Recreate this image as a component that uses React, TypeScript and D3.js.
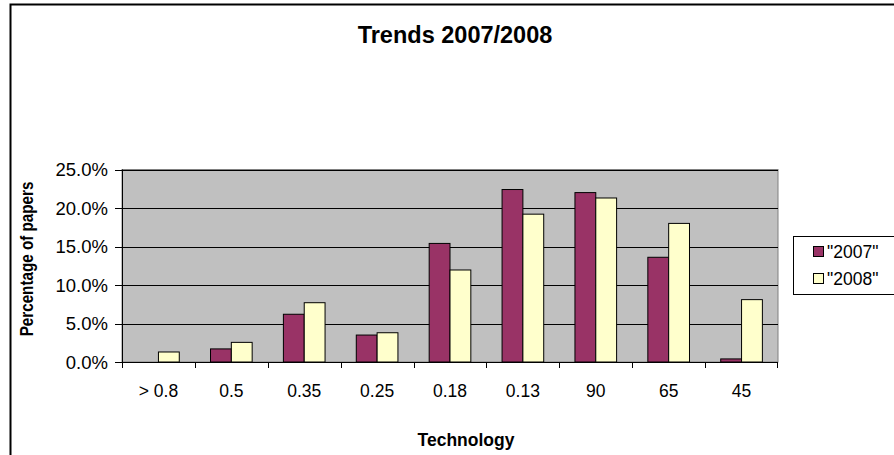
import React from "react";
import * as d3 from "d3";

const categories = ["> 0.8", "0.5", "0.35", "0.25", "0.18", "0.13", "90", "65", "45"];
const seriesNames = ['"2007"', '"2008"'];
const values2007 = [0, 1.7, 6.2, 3.5, 15.4, 22.4, 22.0, 13.6, 0.4];
const values2008 = [1.3, 2.55, 7.7, 3.8, 11.95, 19.2, 21.3, 18.0, 8.1];
const yTicks = [0, 5, 10, 15, 20, 25];
const colors = ["#993366", "#FFFFCC"];

const W = 894;
const H = 455;
const plot = { left: 122, right: 778, top: 169.5, bottom: 362 };
const FONT = "'Liberation Sans', Arial, sans-serif";

export default function App() {
  const x = d3.scaleBand<string>().domain(categories).range([plot.left, plot.right]).paddingInner(0).paddingOuter(0);
  const y = d3.scaleLinear().domain([0, 25]).range([plot.bottom, plot.top]);
  const bw = x.bandwidth();
  const barW = bw / 3.5;
  const x1 = d3.scaleBand<string>().domain(seriesNames).range([0, barW * 2]);
  const series = [values2007, values2008];
  const fmt = (v: number) => v.toFixed(1) + "%";

  return (
    <svg width={W} height={H} style={{ position: "absolute", left: 0, top: 0, background: "#fff" }}>
      {/* chart area border */}
      <rect x={10.5} y={4.5} width={W + 20} height={H + 20} fill="#fff" stroke="#000" strokeWidth={2} />
      {/* title */}
      <text x={455} y={43} textAnchor="middle" fontFamily={FONT} fontWeight="bold" fontSize={23.5}>
        Trends 2007/2008
      </text>
      {/* plot area */}
      <rect x={plot.left} y={plot.top} width={plot.right - plot.left} height={plot.bottom - plot.top} fill="#C0C0C0" stroke="#808080" strokeWidth={1} />
      {yTicks.slice(1).map((t) => (
        <line key={t} x1={plot.left} x2={plot.right} y1={Math.round(y(t)) + 0.5} y2={Math.round(y(t)) + 0.5} stroke="#000" strokeWidth={1} />
      ))}
      {/* bars */}
      {categories.map((c, i) =>
        series.map((s, k) => {
          const v = s[i];
          if (v <= 0) return null;
          const bx = (x(c) as number) + (bw - barW * 2) / 2 + (x1(seriesNames[k]) as number);
          return (
            <rect key={c + k} x={bx} y={y(v)} width={barW} height={y(0) - y(v)} fill={colors[k]} stroke="#000" strokeWidth={1} />
          );
        })
      )}
      {/* y axis */}
      <line x1={plot.left + 0.5} x2={plot.left + 0.5} y1={plot.top} y2={plot.bottom} stroke="#000" />
      {yTicks.map((t) => (
        <g key={t}>
          <line x1={plot.left - 7} x2={plot.left} y1={Math.round(y(t)) + 0.5} y2={Math.round(y(t)) + 0.5} stroke="#000" />
          <text x={108} y={y(t) + 6.5} textAnchor="end" fontFamily={FONT} fontSize={18.5}>
            {fmt(t)}
          </text>
        </g>
      ))}
      {/* x axis */}
      <line x1={plot.left} x2={plot.right} y1={plot.bottom + 0.5} y2={plot.bottom + 0.5} stroke="#000" />
      {categories.map((c, i) => (
        <line key={"t" + i} x1={Math.round(x(c) as number) + 0.5} x2={Math.round(x(c) as number) + 0.5} y1={plot.bottom} y2={plot.bottom + 6} stroke="#000" />
      ))}
      <line x1={plot.right - 0.5} x2={plot.right - 0.5} y1={plot.bottom} y2={plot.bottom + 6} stroke="#000" />
      {categories.map((c) => (
        <text key={"l" + c} x={(x(c) as number) + bw / 2} y={397} textAnchor="middle" fontFamily={FONT} fontSize={17.5}>
          {c}
        </text>
      ))}
      {/* axis titles */}
      <text x={466} y={446} textAnchor="middle" fontFamily={FONT} fontWeight="bold" fontSize={17.5}>
        Technology
      </text>
      <text transform={`translate(33,259) rotate(-90) scale(0.87,1)`} textAnchor="middle" fontFamily={FONT} fontWeight="bold" fontSize={17.5}>
        Percentage of papers
      </text>
      {/* legend */}
      <rect x={793.5} y={236.5} width={120} height={58} fill="#fff" stroke="#000" strokeWidth={1} />
      {seriesNames.map((n, k) => (
        <g key={n}>
          <rect x={813.5} y={246.5 + k * 27} width={10} height={10} fill={colors[k]} stroke="#000" strokeWidth={1} />
          <text x={827} y={257.5 + k * 27} fontFamily={FONT} fontSize={17.5}>
            {n}
          </text>
        </g>
      ))}
    </svg>
  );
}
